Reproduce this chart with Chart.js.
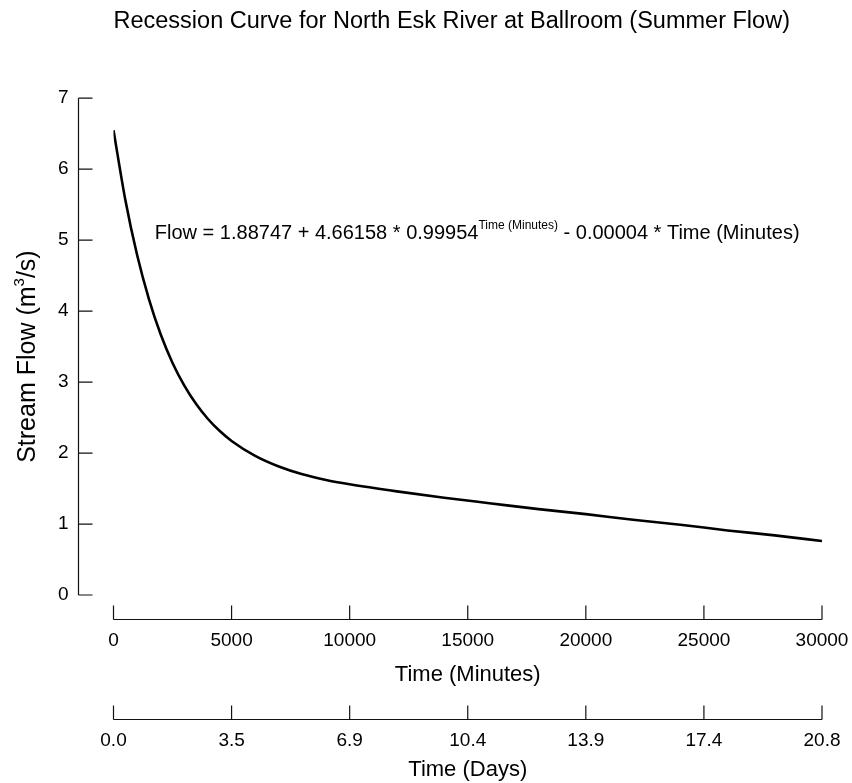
<!DOCTYPE html>
<html>
<head>
<meta charset="utf-8">
<script src="https://cdn.jsdelivr.net/npm/chart.js@4.4.1/dist/chart.umd.min.js"></script>
<style>
  html, body { margin: 0; padding: 0; background: #fff; }
  #wrap { width: 852px; height: 783px; }
</style>
</head>
<body>
<div id="wrap"><canvas id="chart" width="852" height="783"></canvas></div>
<script>
// values
const minutes = [0, 500, 1000, 1500, 2000, 2500, 3000, 3500, 4000, 4500, 5000,
    6000, 7000, 8000, 9000, 10000, 12000, 14000, 16000, 18000, 20000,
    22000, 24000, 26000, 28000, 30000];
const flow = [6.55, 5.57, 4.79, 4.17, 3.67, 3.27, 2.95, 2.69, 2.48, 2.31, 2.17,
    1.96, 1.81, 1.70, 1.62, 1.56, 1.46, 1.37, 1.29, 1.21, 1.14,
    1.06, 0.99, 0.91, 0.84, 0.76];

const flowTicks = [0, 1, 2, 3, 4, 5, 6, 7];
const minuteTicks = [0, 5000, 10000, 15000, 20000, 25000, 30000];
const dayLabels = ['0.0', '3.5', '6.9', '10.4', '13.9', '17.4', '20.8'];

const FONT = '"Liberation Sans", Arial, Helvetica, sans-serif';

// draw a run of text pieces (some raised as superscripts) from x0 along the baseline
function drawRuns(ctx, parts, x0, base) {
    let px = x0;
    parts.forEach(p => {
        ctx.font = p.size + 'px ' + FONT;
        ctx.fillText(p.text, px, base - p.rise);
        px += ctx.measureText(p.text).width;
    });
}

function runsWidth(ctx, parts) {
    return parts.reduce((w, p) => {
        ctx.font = p.size + 'px ' + FONT;
        return w + ctx.measureText(p.text).width;
    }, 0);
}

// detached SigmaPlot-style axes with inward ticks
const detachedAxes = {
    id: 'detachedAxes',
    afterDraw(chart) {
        const { ctx, chartArea } = chart;
        const { x, x2, y } = chart.scales;
        const tickLen = 14;
        ctx.save();
        ctx.strokeStyle = '#111';
        ctx.lineWidth = 1.2;

        // y axis
        const yx = chartArea.left - 35;
        ctx.beginPath();
        ctx.moveTo(yx, y.getPixelForValue(flowTicks[0]));
        ctx.lineTo(yx, y.getPixelForValue(flowTicks[flowTicks.length - 1]));
        flowTicks.forEach(v => {
            const py = y.getPixelForValue(v);
            ctx.moveTo(yx, py);
            ctx.lineTo(yx + tickLen, py);
        });
        ctx.stroke();

        // both bottom axes
        [x, x2].forEach(scale => {
            const ly = scale.top + 24.5;
            ctx.beginPath();
            ctx.moveTo(scale.getPixelForValue(minuteTicks[0]), ly);
            ctx.lineTo(scale.getPixelForValue(minuteTicks[minuteTicks.length - 1]), ly);
            minuteTicks.forEach(v => {
                const px = scale.getPixelForValue(v);
                ctx.moveTo(px, ly);
                ctx.lineTo(px, ly - tickLen);
            });
            ctx.stroke();
        });
        ctx.restore();
    }
};

// y title with a real superscript, and the fitted equation inside the plot
const textLabels = {
    id: 'textLabels',
    afterDatasetsDraw(chart) {
        const { ctx } = chart;
        const { x, y } = chart.scales;
        ctx.save();
        ctx.fillStyle = '#000';
        ctx.textBaseline = 'alphabetic';
        ctx.textAlign = 'left';

        const eq = [
            { text: 'Flow = 1.88747 + 4.66158 * 0.99954', size: 20, rise: 0 },
            { text: 'Time (Minutes)', size: 12, rise: 10 },
            { text: ' - 0.00004 * Time (Minutes)', size: 20, rise: 0 }
        ];
        drawRuns(ctx, eq, x.getPixelForValue(1750), y.getPixelForValue(5.11) + 7);

        const yTitle = [
            { text: 'Stream Flow (m', size: 25, rise: 0 },
            { text: '3', size: 15, rise: 11 },
            { text: '/s)', size: 25, rise: 0 }
        ];
        ctx.translate(y.left + 35, (y.top + y.bottom) / 2 + 10);
        ctx.rotate(-Math.PI / 2);
        drawRuns(ctx, yTitle, -runsWidth(ctx, yTitle) / 2, 0);
        ctx.restore();
    }
};

// keep tick label overhang from shrinking the plot
const noSidePadding = s => {
    s.paddingLeft = 0;
    s.paddingRight = 0;
};

new Chart(document.getElementById('chart'), {
    type: 'line',
    data: {
        datasets: [{
            data: minutes.map((m, i) => ({ x: m, y: flow[i] })),
            borderColor: '#000',
            borderWidth: 2.6,
            pointRadius: 0,
            fill: false,
            cubicInterpolationMode: 'monotone'
        }]
    },
    options: {
        responsive: false,
        animation: false,
        layout: { padding: { left: 0, right: 30, top: 0, bottom: 0 } },
        plugins: {
            legend: { display: false },
            tooltip: { enabled: false },
            title: {
                display: true,
                text: 'Recession Curve for North Esk River at Ballroom (Summer Flow)',
                color: '#000',
                fullSize: false,
                align: 'start',
                font: { family: FONT, size: 23.5, weight: 'normal' },
                padding: { top: 7, bottom: 63 }
            }
        },
        scales: {
            x: {
                type: 'linear',
                position: 'bottom',
                min: 0,
                max: 30000,
                weight: 0,
                afterBuildTicks: s => { s.ticks = minuteTicks.map(v => ({ value: v })); },
                afterFit: s => { s.height = 100; noSidePadding(s); },
                grid: { display: false, drawTicks: false },
                border: { display: false },
                ticks: {
                    padding: 34,
                    color: '#000',
                    maxRotation: 0,
                    font: { family: FONT, size: 19 },
                    callback: v => String(v)
                },
                title: {
                    display: true,
                    text: 'Time (Minutes)',
                    color: '#000',
                    font: { family: FONT, size: 22 },
                    padding: { top: 0, bottom: 7 }
                }
            },
            x2: {
                type: 'linear',
                position: 'bottom',
                min: 0,
                max: 30000,
                weight: 1,
                afterBuildTicks: s => { s.ticks = minuteTicks.map(v => ({ value: v })); },
                afterFit: s => { s.height = 88; noSidePadding(s); },
                grid: { display: false, drawTicks: false },
                border: { display: false },
                ticks: {
                    padding: 34,
                    color: '#000',
                    maxRotation: 0,
                    font: { family: FONT, size: 19 },
                    callback: (v, i) => dayLabels[i]
                },
                title: {
                    display: true,
                    text: 'Time (Days)',
                    color: '#000',
                    font: { family: FONT, size: 22 },
                    padding: { top: 0, bottom: 0 }
                }
            },
            y: {
                type: 'linear',
                position: 'left',
                min: 0,
                max: 7,
                afterBuildTicks: s => { s.ticks = flowTicks.map(v => ({ value: v })); },
                afterFit: s => { s.width = 113.5; },
                grid: { display: false, drawTicks: false },
                border: { display: false },
                ticks: {
                    padding: 45,
                    color: '#000',
                    font: { family: FONT, size: 19 }
                },
                title: { display: false }
            }
        }
    },
    plugins: [detachedAxes, textLabels]
});
</script>
</body>
</html>
